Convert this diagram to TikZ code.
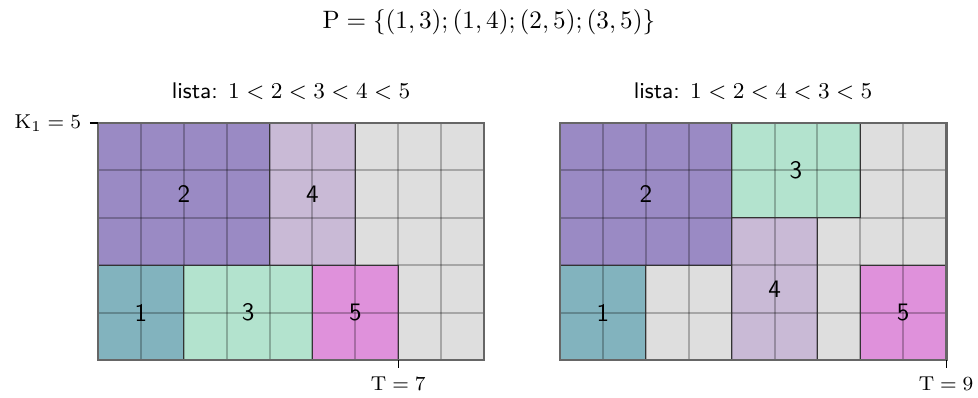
\documentclass[tikz,border=0pt]{standalone}
\usepackage{amsmath}
\usepackage{xcolor}
\usetikzlibrary{positioning}
\definecolor{libre}{HTML}{DEDEDE}
\definecolor{tareaA}{HTML}{82B3BE}
\definecolor{tareaB}{HTML}{9A8AC4}
\definecolor{tareaC}{HTML}{B3E3CE}
\definecolor{tareaD}{HTML}{C9BAD6}
\definecolor{tareaE}{HTML}{DF91DB}
\tikzset{
    cuadricula/.style={draw=black, opacity=0.25, line width=0.8pt},
    marco/.style={draw=black!60, line width=1.1pt},
    bloque/.style={draw=black!80, line width=0.5pt},
    numero/.style={font=\sffamily},
    lista/.style={font=\sffamily\small},
    marca/.style={line width=0.5pt},
    cota/.style={font=\fontsize{8.5}{10}\selectfont},
}
\begin{document}
\begin{tikzpicture}[x=0.6cm, y=0.663cm]
    \useasboundingbox (-2.284,-0.781) rectangle (20.513,7.595);

    \node (P) at (9.11,7.13) {$\mathrm{P}=\{(1,3);(1,4);(2,5);(3,5)\}$};

    % lista 1 < 2 < 3 < 4 < 5
    \fill[libre] (0,0) rectangle (9,5);
    \fill[tareaB] (0,2) rectangle (4,5);
    \fill[tareaD] (4,2) rectangle (6,5);
    \fill[tareaA] (0,0) rectangle (2,2);
    \fill[tareaC] (2,0) rectangle (5,2);
    \fill[tareaE] (5,0) rectangle (7,2);
    \foreach \i in {1,...,8} \draw[cuadricula] (\i,0) -- (\i,5);
    \foreach \j in {1,...,4} \draw[cuadricula] (0,\j) -- (9,\j);
    \draw[bloque] (0,2) rectangle (4,5) node[numero, midway] (a2) {2};
    \draw[bloque] (4,2) rectangle (6,5) node[numero, midway] (a4) {4};
    \draw[bloque] (0,0) rectangle (2,2) node[numero, midway] (a1) {1};
    \draw[bloque] (2,0) rectangle (5,2) node[numero, midway] (a3) {3};
    \draw[bloque] (5,0) rectangle (7,2) node[numero, midway] (a5) {5};
    \draw[marco] (0,0) rectangle (9,5);
    \node[lista] (la) at (4.5,5.675) {lista: $1<2<3<4<5$};

    \coordinate (k) at (-0.19,5);
    \draw[marca] (k) -- (0,5);
    \node[anchor=east, cota] (kl) at (k) {$\mathrm{K}_1=5$};

    \coordinate (ta) at (7,-0.17);
    \draw[marca] (7,0) -- (ta);
    \node[anchor=north, cota] (tal) at (ta) {$\mathrm{T}=7$};

    % lista 1 < 2 < 4 < 3 < 5
    \begin{scope}[shift={(10.77,0)}]
    \fill[libre] (0,0) rectangle (9,5);
    \fill[tareaB] (0,2) rectangle (4,5);
    \fill[tareaC] (4,3) rectangle (7,5);
    \fill[tareaA] (0,0) rectangle (2,2);
    \fill[tareaD] (4,0) rectangle (6,3);
    \fill[tareaE] (7,0) rectangle (9,2);
    \foreach \i in {1,...,8} \draw[cuadricula] (\i,0) -- (\i,5);
    \foreach \j in {1,...,4} \draw[cuadricula] (0,\j) -- (9,\j);
    \draw[bloque] (0,2) rectangle (4,5) node[numero, midway] (b2) {2};
    \draw[bloque] (4,3) rectangle (7,5) node[numero, midway] (b3) {3};
    \draw[bloque] (0,0) rectangle (2,2) node[numero, midway] (b1) {1};
    \draw[bloque] (4,0) rectangle (6,3) node[numero, midway] (b4) {4};
    \draw[bloque] (7,0) rectangle (9,2) node[numero, midway] (b5) {5};
    \draw[marco] (0,0) rectangle (9,5);
    \node[lista] (lb) at (4.5,5.675) {lista: $1<2<4<3<5$};

    \coordinate (tb) at (9,-0.17);
    \draw[marca] (9,0) -- (tb);
    \node[anchor=north, cota] (tbl) at (tb) {$\mathrm{T}=9$};
    \end{scope}
\end{tikzpicture}
\end{document}
